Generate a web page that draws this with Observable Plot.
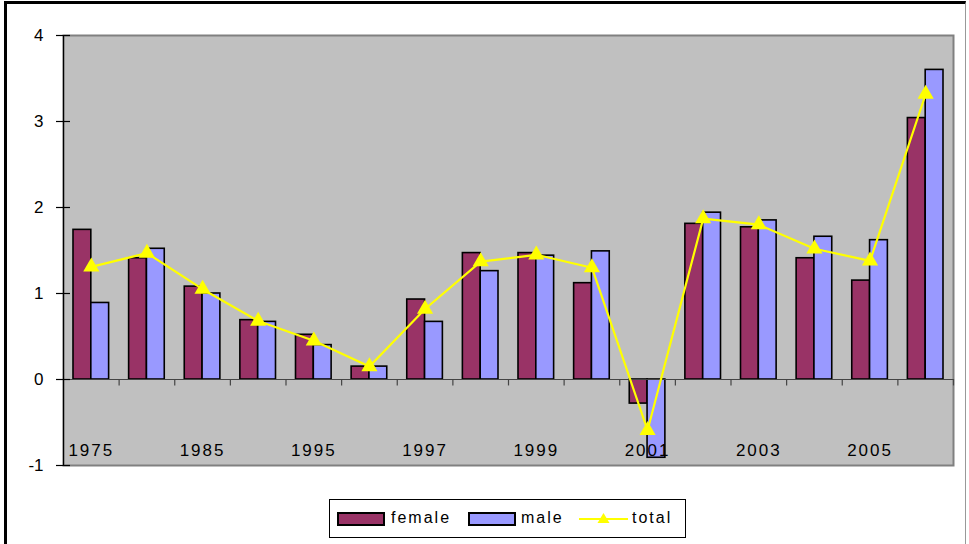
<!DOCTYPE html>
<html>
<head>
<meta charset="utf-8">
<script src="https://cdn.jsdelivr.net/npm/d3@7"></script>
<script src="https://cdn.jsdelivr.net/npm/@observablehq/plot@0.6"></script>
<style>
  html, body { margin: 0; padding: 0; background: #fff; }
  #wrap { position: relative; width: 969px; height: 544px; overflow: hidden; font-family: "Liberation Sans", Arial, sans-serif; }
  #border { position: absolute; left: 4px; top: 1px; width: 962px; height: 560px; border-left: 3px solid #000; border-top: 3px solid #000; border-right: 1px solid #999; box-sizing: border-box; pointer-events: none; }
  #legend { position: absolute; left: 329px; top: 499px; width: 357px; height: 39px; border: 1px solid #000; box-sizing: border-box; background: #fff; font-size: 16px; letter-spacing: 2px; color: #000; }
  .sw { position: absolute; top: 12px; width: 48px; height: 14px; border: 2px solid #000; box-sizing: border-box; }
  .lb { position: absolute; top: 9px; line-height: 18px; }
</style>
</head>
<body>
<div id="wrap">
  <div id="chart"></div>
  <div id="border"></div>
  <div id="legend"></div>
</div>
<script>
const categories = ["1975","1980","1985","1990","1995","1996","1997","1998","1999","2000","2001","2002","2003","2004","2005","2006"];
const tickLabels = ["1975","","1985","","1995","","1997","","1999","","2001","","2003","","2005",""];
const female = [1.74,1.41,1.08,0.69,0.52,0.15,0.93,1.47,1.47,1.12,-0.28,1.81,1.77,1.41,1.15,3.04];
const male   = [0.89,1.52,1.00,0.67,0.40,0.15,0.67,1.26,1.44,1.49,-0.91,1.94,1.85,1.66,1.62,3.60];
const total  = [1.31,1.47,1.05,0.68,0.45,0.15,0.82,1.37,1.45,1.30,-0.59,1.87,1.80,1.52,1.38,3.32];
const yTicks = [-1,0,1,2,3,4];
const seriesNames = ["female","male","total"];
const colors = {female: "#993366", male: "#9999FF", total: "#FFFF00"};

const rows = categories.map((c, i) => ({year: c, label: tickLabels[i], female: female[i], male: male[i], total: total[i]}));

const W = 969, H = 544, mL = 63, mR = 16, mT = 35, mB = 79;
const bw = (W - mL - mR) / categories.length;

const chart = Plot.plot({
  width: W, height: H,
  marginLeft: mL, marginRight: mR, marginTop: mT, marginBottom: mB,
  x: {domain: categories, padding: 0, round: false, axis: null},
  y: {domain: [-1, 4], axis: null},
  style: {background: "transparent", fontFamily: "'Liberation Sans', Arial, sans-serif", fontSize: "16px", color: "#000"},
  marks: [
    Plot.frame({fill: "#C0C0C0", stroke: "#808080", strokeWidth: 2}),
    Plot.barY(rows, {x: "year", y: "female", fill: colors.female, stroke: "#000", strokeWidth: 1.6, insetLeft: 10, insetRight: bw / 2}),
    Plot.barY(rows, {x: "year", y: "male", fill: colors.male, stroke: "#000", strokeWidth: 1.6, insetLeft: bw / 2, insetRight: 10}),
    Plot.ruleY([0], {stroke: "#444", strokeWidth: 1.2}),
    Plot.ruleX(categories.slice(1), {x: d => d, dx: -bw / 2, y1: 0, y2: -0.075, stroke: "#444", strokeWidth: 1.2}),
    Plot.ruleX([categories[categories.length - 1]], {x: d => d, dx: bw / 2, y1: 0, y2: -0.075, stroke: "#444", strokeWidth: 1.2}),
    Plot.ruleX([categories[0]], {x: d => d, dx: -bw / 2, y1: -1, y2: 4, stroke: "#000", strokeWidth: 1.2}),
    Plot.tickY(yTicks, {y: d => d, insetRight: W - mL - mR - 7, stroke: "#000", strokeWidth: 1.2}),
    Plot.axisY({ticks: yTicks, tickFormat: d => String(d), tickSize: 7, tickPadding: 13, fontSize: 17, stroke: "#000", strokeWidth: 1.2}),
    Plot.text(rows, {x: "year", text: "label", frameAnchor: "bottom", dy: -10, fontSize: 17, fill: "#000"}),
    Plot.lineY(rows, {x: "year", y: "total", stroke: colors.total, strokeWidth: 2.2}),
    Plot.dot(rows, {x: "year", y: "total", symbol: "triangle", r: 6, fill: colors.total, stroke: "none"})
  ]
});
document.getElementById("chart").appendChild(chart);
chart.querySelectorAll("text").forEach(t => {
  if (/^\d{4}$/.test(t.textContent)) t.setAttribute("letter-spacing", "2");
  t.setAttribute("font-size", "17");
});

// legend
const lg = document.getElementById("legend");
const legendItems = [
  {name: seriesNames[0], kind: "bar", sw: 7, tx: 61},
  {name: seriesNames[1], kind: "bar", sw: 138, tx: 191},
  {name: seriesNames[2], kind: "line", sw: 249, tx: 302}
];
legendItems.forEach(it => {
  if (it.kind === "bar") {
    const s = document.createElement("div");
    s.className = "sw";
    s.style.left = it.sw + "px";
    s.style.background = colors[it.name];
    lg.appendChild(s);
  } else {
    const s = document.createElementNS("http://www.w3.org/2000/svg", "svg");
    s.setAttribute("width", 50); s.setAttribute("height", 20);
    s.style.position = "absolute"; s.style.left = it.sw + "px"; s.style.top = "9px";
    s.innerHTML = `<line x1="0" y1="10" x2="49" y2="10" stroke="${colors.total}" stroke-width="2"/><path d="M24.5,4 L30.5,14 L18.5,14 Z" fill="${colors.total}"/>`;
    lg.appendChild(s);
  }
  const t = document.createElement("div");
  t.className = "lb";
  t.style.left = it.tx + "px";
  t.textContent = it.name;
  lg.appendChild(t);
});
</script>
</body>
</html>
